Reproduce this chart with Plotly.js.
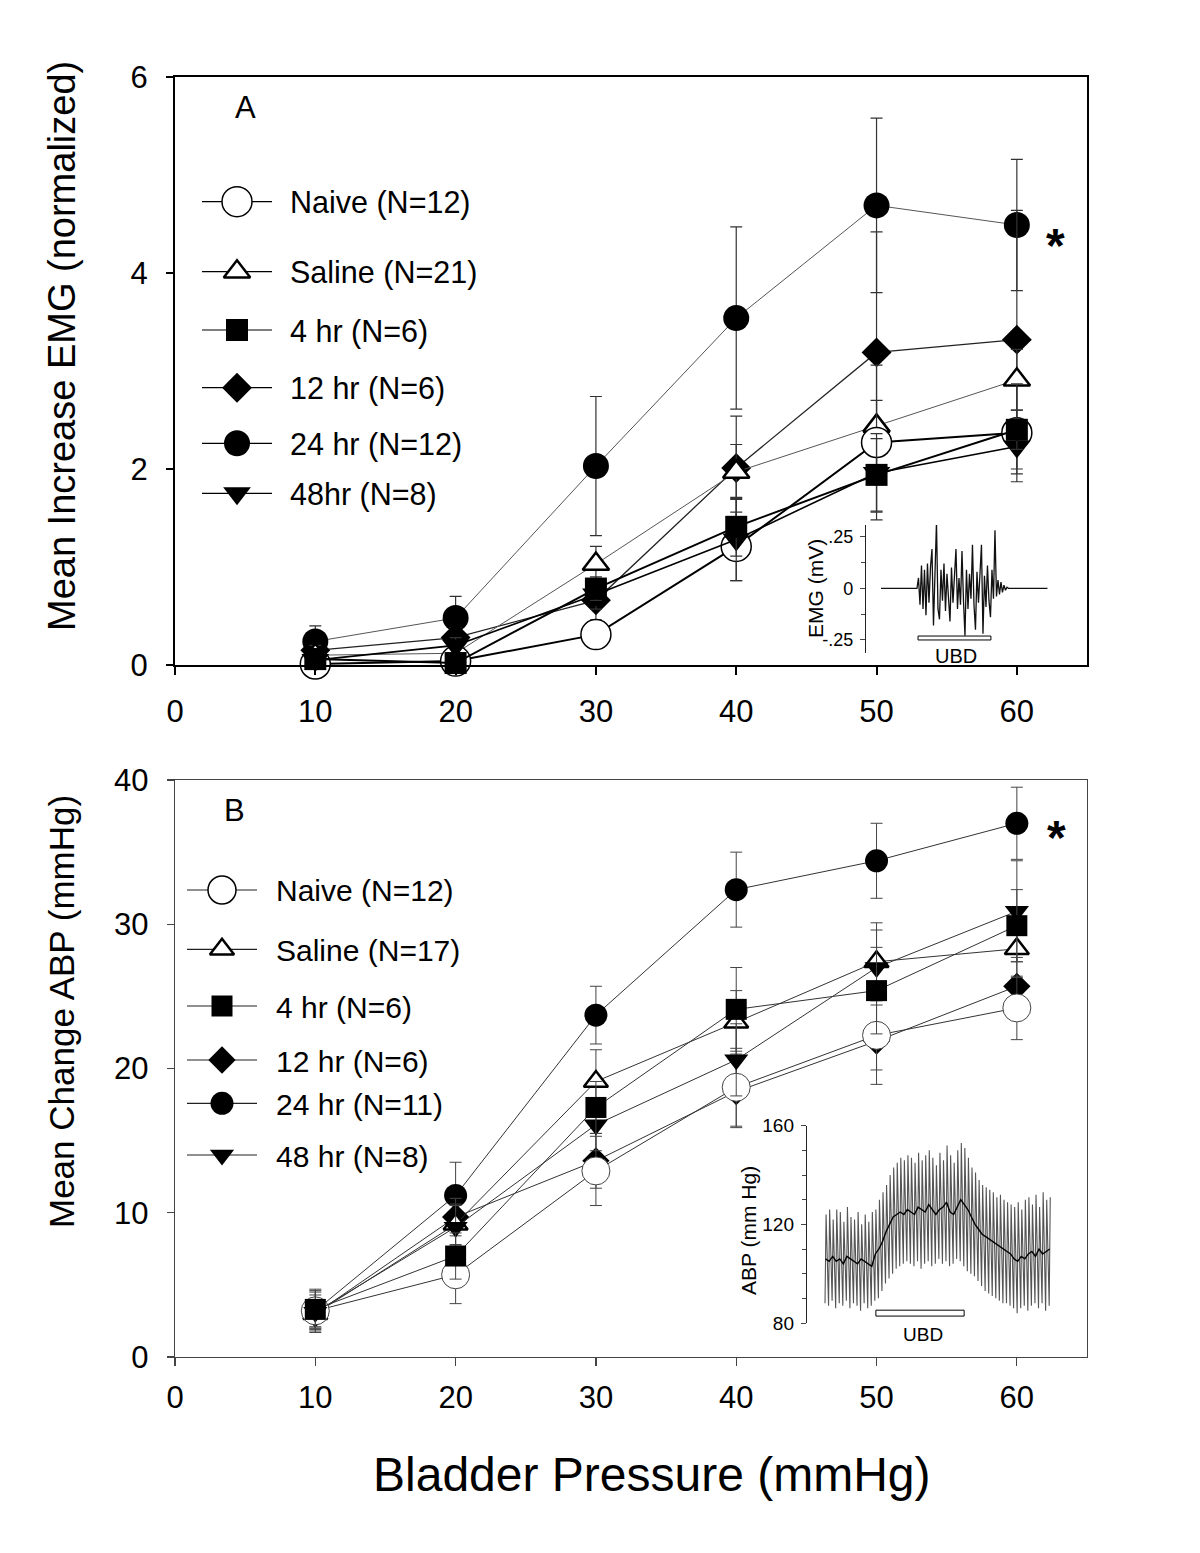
<!DOCTYPE html>
<html>
<head>
<meta charset="utf-8">
<script src="https://cdn.plot.ly/plotly-3.0.1.min.js"></script>
<style>html,body{margin:0;padding:0;background:#fff;}#chart{width:1200px;height:1553px;}</style>
</head>
<body>
<div id="chart"></div>
<script>
// ---------------- DATA ----------------
const bladderPressure = [10, 20, 30, 40, 50, 60];
const xTicks = [0, 10, 20, 30, 40, 50, 60];

const namesA = ['Naive (N=12)', 'Saline (N=21)', '4 hr (N=6)', '12 hr (N=6)', '24 hr (N=12)', '48hr (N=8)'];
const namesB = ['Naive (N=12)', 'Saline (N=17)', '4 hr (N=6)', '12 hr (N=6)', '24 hr (N=11)', '48 hr (N=8)'];

// Panel A: Mean increase EMG (normalized)
const emgNaive  = [0.01, 0.04, 0.31, 1.21, 2.27, 2.37];
const emgSaline = [0.10, 0.12, 1.03, 1.97, 2.44, 2.91];
const emg4hr    = [0.06, 0.02, 0.78, 1.41, 1.94, 2.40];
const emg12hr   = [0.15, 0.28, 0.66, 2.01, 3.19, 3.32];
const emg24hr   = [0.24, 0.48, 2.03, 3.54, 4.69, 4.49];
const emg48hr   = [0.05, 0.20, 0.72, 1.28, 1.96, 2.23];
const emgNaiveSE  = [0.03, 0.04, 0.08, 0.35, 0.79, 0.50];
const emgSalineSE = [0.10, 0.08, 0.18, 0.28, 0.26, 0.31];
const emg4hrSE    = [0.04, 0.03, 0.12, 0.30, 0.37, 0.20];
const emg12hrSE   = [0.06, 0.10, 0.20, 0.53, 1.23, 1.32];
const emg24hrSE   = [0.16, 0.22, 0.71, 0.93, 0.89, 0.67];
const emg48hrSE   = [0.05, 0.08, 0.15, 0.42, 0.40, 0.28];

// Panel B: Mean change ABP (mmHg)
const abpNaive  = [3.2, 5.7, 12.9, 18.7, 22.3, 24.2];
const abpSaline = [3.0, 9.2, 19.1, 23.2, 27.4, 28.3];
const abp4hr    = [3.3, 7.0, 17.3, 24.1, 25.4, 29.9];
const abp12hr   = [3.0, 9.7, 13.6, 18.4, 21.9, 25.7];
const abp24hr   = [3.2, 11.2, 23.7, 32.4, 34.4, 37.0];
const abp48hr   = [3.1, 9.0, 16.1, 20.6, 27.0, 30.9];
const abpNaiveSE  = [1.4, 2.0, 2.4, 2.7, 2.4, 2.2];
const abpSalineSE = [1.0, 1.4, 2.2, 2.2, 2.7, 2.0];
const abp4hrSE    = [1.2, 1.6, 1.8, 2.9, 3.0, 2.5];
const abp12hrSE   = [1.0, 1.3, 1.9, 2.5, 3.0, 2.0];
const abp24hrSE   = [1.5, 2.3, 2.0, 2.6, 2.6, 2.5];
const abp48hrSE   = [1.2, 1.5, 1.8, 2.5, 2.6, 3.5];

// Inset A: EMG trace (mV), equally spaced samples
const emgTrace = [
  0,0,0,0,0,0,0,0,0,0,0,0,0,0,0,0,0,0,0,0,0,0,0,0,0,
  0.05,-0.08,0.11,-0.10,0.09,-0.13,0.12,-0.07,0.10,0.19,
  -0.18,0.08,0.32,-0.10,-0.15,0.09,-0.06,0.12,-0.11,0.07,
  -0.08,-0.16,0.10,-0.07,0.06,0.19,-0.10,0.05,-0.08,0.18,
  -0.06,-0.23,0.09,-0.10,0.07,-0.05,0.21,-0.08,-0.20,0.08,
  -0.07,0.10,0.21,-0.22,0.06,-0.09,0.11,-0.06,-0.14,0.09,
  -0.05,0.28,-0.04,0.04,-0.03,0.03,-0.02,0.015,-0.01,0.005,
  0,0,0,0,0,0,0,0,0,0,0,0,0,0,0,0,0,0,0,0,0,0,0,0,0,0,0
];
const emgUBD = [24.7, 73.3];          // sample index range of bladder distension
const emgTicks = [-0.25, 0, 0.25];
const emgTickText = ['-.25', '0', '.25'];

// Inset B: ABP trace per beat (mm Hg)
const abpSys = [124,126,122,126,125,121,127,123,122,125,120,124,121,125,
  126,130,133,136,140,143,145,147,146,148,
  147,145,149,146,148,150,147,144,149,146,152,148,145,150,153,151,147,143,
  141,138,136,135,134,133,131,132,130,129,128,
  127,129,126,130,131,128,132,127,133,130,131];
const abpDia = [88,87,89,86,88,87,89,86,88,87,85,88,86,87,
  89,90,93,96,98,100,102,103,104,105,
  104,103,105,102,104,105,103,104,106,104,105,103,104,106,105,103,101,100,
  99,97,95,93,92,91,90,89,88,88,87,
  86,84,86,87,85,87,88,86,88,85,87];
const abpMean = [106,105,107,105,106,104,107,106,105,104,106,105,104,103,
  108,110,113,117,120,123,124,125,124,126,
  125,124,127,126,125,128,126,124,126,127,129,125,124,127,130,128,126,123,
  120,118,116,115,114,113,112,111,110,109,108,
  106,105,107,106,108,109,107,110,108,109,110];
const abpUBD = [14.3, 39.1];          // beat index range of bladder distension
const abpTicks = [80, 120, 160];

// ---------------- STYLE / LAYOUT HELPERS ----------------
const W = 1200, H = 1553;
const FONT = 'Liberation Sans, Arial, sans-serif';
const px = v => v / W;
const py = v => 1 - v / H;

const symbols = ['circle', 'triangle-up', 'square', 'diamond', 'circle', 'triangle-down'];
const fills   = ['#ffffff', '#ffffff', '#000000', '#000000', '#000000', '#000000'];
const outlineW = [1.5, 2.5, 0, 0, 0, 0];
const sizesA  = [30, 23, 22, 23, 26, 24];
const sizesB  = [28, 21, 21, 21, 23, 21];
const lineWA  = [2, 1, 2, 1.3, 1, 1.6];
const lineCA  = ['#000', '#555', '#000', '#222', '#555', '#000'];

const meansA = [emgNaive, emgSaline, emg4hr, emg12hr, emg24hr, emg48hr];
const seA    = [emgNaiveSE, emgSalineSE, emg4hrSE, emg12hrSE, emg24hrSE, emg48hrSE];
const meansB = [abpNaive, abpSaline, abp4hr, abp12hr, abp24hr, abp48hr];
const seB    = [abpNaiveSE, abpSalineSE, abp4hrSE, abp12hrSE, abp24hrSE, abp48hrSE];

const traces = [];
const drawOrder = [4, 3, 1, 0, 5, 2];

drawOrder.forEach(i => {
  traces.push({
    type: 'scatter', mode: 'lines+markers', name: namesA[i],
    x: bladderPressure, y: meansA[i], xaxis: 'x', yaxis: 'y',
    cliponaxis: false, showlegend: false,
    line: {color: lineCA[i], width: lineWA[i]},
    marker: {symbol: symbols[i], size: sizesA[i], color: fills[i],
             line: {color: '#000', width: outlineW[i]}},
    error_y: {type: 'data', array: seA[i], visible: true, color: '#333', thickness: 1.2, width: 6}
  });
});
drawOrder.forEach(i => {
  traces.push({
    type: 'scatter', mode: 'lines+markers', name: namesB[i],
    x: bladderPressure, y: meansB[i], xaxis: 'x2', yaxis: 'y2',
    cliponaxis: false, showlegend: false,
    line: {color: '#333', width: 1},
    marker: {symbol: symbols[i], size: sizesB[i], color: fills[i],
             line: {color: i === 0 ? '#444' : '#000', width: i === 0 ? 1 : outlineW[i]}},
    error_y: {type: 'data', array: seB[i], visible: true, color: '#444', thickness: 1, width: 6}
  });
});

// Inset A trace
traces.push({
  type: 'scatter', mode: 'lines', name: 'EMG trace',
  x: emgTrace.map((_, k) => k), y: emgTrace, xaxis: 'x3', yaxis: 'y3',
  showlegend: false, line: {color: '#111', width: 1.3}
});

// Inset B trace: beat-by-beat pulsatile pressure + mean pressure
const pulseX = [], pulseY = [];
abpSys.forEach((s, k) => { pulseX.push(k, k + 0.3); pulseY.push(abpDia[k], s); });
traces.push({
  type: 'scatter', mode: 'lines', name: 'ABP pulsatile',
  x: pulseX, y: pulseY, xaxis: 'x4', yaxis: 'y4',
  showlegend: false, line: {color: '#555', width: 1.1}
});
traces.push({
  type: 'scatter', mode: 'lines', name: 'ABP mean',
  x: abpMean.map((_, k) => k + 0.15), y: abpMean, xaxis: 'x4', yaxis: 'y4',
  showlegend: false, line: {color: '#000', width: 1.4}
});

// Manual legends (pixel overlay axis x5/y5)
const legendRowsA = [201.7, 271.7, 330, 387.7, 443.3, 493.3];
const legendRowsB = [890, 949.3, 1006, 1060, 1103.3, 1155];
function addLegend(rows, names, sizes, lx0, lx1, textX, fs, lineColor) {
  const annots = [];
  rows.forEach((ry, i) => {
    traces.push({type: 'scatter', mode: 'lines', x: [lx0, lx1], y: [ry, ry],
      xaxis: 'x5', yaxis: 'y5', showlegend: false, hoverinfo: 'skip',
      line: {color: lineColor, width: 1.2}});
    traces.push({type: 'scatter', mode: 'markers', x: [(lx0 + lx1) / 2], y: [ry],
      xaxis: 'x5', yaxis: 'y5', showlegend: false, hoverinfo: 'skip', cliponaxis: false,
      marker: {symbol: symbols[i], size: sizes[i], color: fills[i],
               line: {color: '#000', width: outlineW[i]}}});
    annots.push({xref: 'paper', yref: 'paper', x: px(textX), y: py(ry + 1),
      xanchor: 'left', yanchor: 'middle', showarrow: false, text: names[i],
      font: {family: FONT, size: fs, color: '#000'}});
  });
  return annots;
}
const legendAnnots = addLegend(legendRowsA, namesA, sizesA, 202, 272, 288, 30.5, '#000')
  .concat(addLegend(legendRowsB, namesB, sizesB, 187, 257, 274, 30, '#222'));

const tickFont = {family: FONT, size: 31, color: '#000'};
function mainX(anchor, lw, lc, standoff) {
  return {domain: [px(175), px(1087)], range: [0, 65], anchor: anchor,
    tickvals: xTicks, ticks: 'outside', ticklen: 8, tickwidth: lw, tickcolor: lc,
    showline: true, linewidth: lw, linecolor: lc, mirror: true,
    showgrid: false, zeroline: false, tickfont: tickFont, ticklabelstandoff: standoff, fixedrange: true};
}
function mainY(anchor, dom, rng, dt, lw, lc) {
  return {domain: dom, range: rng, anchor: anchor, dtick: dt, tick0: 0,
    ticks: 'outside', ticklen: 7, tickwidth: lw, tickcolor: lc,
    showline: true, linewidth: lw, linecolor: lc, mirror: true,
    showgrid: false, zeroline: false, tickfont: tickFont, ticklabelstandoff: 12, fixedrange: true};
}

const layout = {
  width: W, height: H, margin: {l: 0, r: 0, t: 0, b: 0},
  paper_bgcolor: '#fff', plot_bgcolor: 'rgba(0,0,0,0)', showlegend: false,
  font: {family: FONT, color: '#000'},
  xaxis: mainX('y', 2, '#000', 10),
  yaxis: mainY('x', [py(665), py(77)], [0, 6], 2, 2, '#000'),
  xaxis2: mainX('y2', 1.3, '#444', 4),
  yaxis2: mainY('x2', [py(1357), py(780)], [0, 40], 10, 1.3, '#444'),
  xaxis3: {domain: [px(866), px(1062)], range: [-10, 120.7], anchor: 'y3', visible: false, fixedrange: true},
  yaxis3: {domain: [py(653), py(525)], range: [-0.313, 0.306], anchor: 'x3',
    tickvals: emgTicks, ticktext: emgTickText, ticks: 'outside', ticklen: 5, tickwidth: 1,
    minor: {tickvals: [-0.125, 0.125], ticks: 'outside', ticklen: 4, tickwidth: 1, showgrid: false},
    showline: true, linewidth: 1.2, linecolor: '#222', showgrid: false, zeroline: false,
    tickfont: {family: FONT, size: 18, color: '#000'}, ticklabelstandoff: 3, fixedrange: true},
  xaxis4: {domain: [px(807), px(1062)], range: [-5.06, 66.6], anchor: 'y4', visible: false, fixedrange: true},
  yaxis4: {domain: [py(1323), py(1125.7)], range: [80, 160], anchor: 'x4',
    tickvals: abpTicks, ticks: 'outside', ticklen: 5, tickwidth: 1,
    minor: {dtick: 10, ticks: 'outside', ticklen: 4, tickwidth: 1, showgrid: false},
    showline: true, linewidth: 1.2, linecolor: '#222', showgrid: false, zeroline: false,
    tickfont: {family: FONT, size: 19, color: '#000'}, ticklabelstandoff: 3, fixedrange: true},
  xaxis5: {domain: [0, 1], range: [0, W], anchor: 'y5', visible: false, fixedrange: true},
  yaxis5: {domain: [0, 1], range: [H, 0], anchor: 'x5', visible: false, fixedrange: true},
  shapes: [
    {type: 'rect', xref: 'x3', yref: 'y3', x0: emgUBD[0], x1: emgUBD[1], y0: -0.231, y1: -0.250,
     line: {color: '#000', width: 1}, fillcolor: '#fff'},
    {type: 'rect', xref: 'x4', yref: 'y4', x0: abpUBD[0], x1: abpUBD[1], y0: 85.2, y1: 82.8,
     line: {color: '#000', width: 1}, fillcolor: '#fff'}
  ],
  annotations: [
    {xref: 'paper', yref: 'paper', x: px(62), y: py(346), textangle: -90, showarrow: false,
     xanchor: 'center', yanchor: 'middle', text: 'Mean Increase EMG (normalized)',
     font: {family: FONT, size: 38, color: '#000'}},
    {xref: 'paper', yref: 'paper', x: px(62), y: py(1012), textangle: -90, showarrow: false,
     xanchor: 'center', yanchor: 'middle', text: 'Mean Change ABP (mmHg)',
     font: {family: FONT, size: 35, color: '#000'}},
    {xref: 'paper', yref: 'paper', x: px(651), y: py(1474), showarrow: false,
     xanchor: 'center', yanchor: 'middle', text: 'Bladder Pressure (mmHg)',
     font: {family: FONT, size: 48, color: '#000'}},
    {xref: 'paper', yref: 'paper', x: px(245), y: py(108), showarrow: false,
     xanchor: 'center', yanchor: 'middle', text: 'A', font: {family: FONT, size: 31, color: '#000'}},
    {xref: 'paper', yref: 'paper', x: px(234), y: py(810), showarrow: false,
     xanchor: 'center', yanchor: 'middle', text: 'B', font: {family: FONT, size: 31, color: '#000'}},
    {xref: 'paper', yref: 'paper', x: px(1055), y: py(246), showarrow: false,
     xanchor: 'center', yanchor: 'middle', text: '<b>*</b>', font: {family: FONT, size: 48, color: '#000'}},
    {xref: 'paper', yref: 'paper', x: px(1056), y: py(837), showarrow: false,
     xanchor: 'center', yanchor: 'middle', text: '<b>*</b>', font: {family: FONT, size: 48, color: '#000'}},
    {xref: 'paper', yref: 'paper', x: px(815), y: py(589), textangle: -90, showarrow: false,
     xanchor: 'center', yanchor: 'middle', text: 'EMG (mV)', font: {family: FONT, size: 21, color: '#000'}},
    {xref: 'paper', yref: 'paper', x: px(748), y: py(1231), textangle: -90, showarrow: false,
     xanchor: 'center', yanchor: 'middle', text: 'ABP (mm Hg)', font: {family: FONT, size: 21, color: '#000'}},
    {xref: 'paper', yref: 'paper', x: px(956), y: py(656), showarrow: false,
     xanchor: 'center', yanchor: 'middle', text: 'UBD', font: {family: FONT, size: 20, color: '#000'}},
    {xref: 'paper', yref: 'paper', x: px(923), y: py(1334), showarrow: false,
     xanchor: 'center', yanchor: 'middle', text: 'UBD', font: {family: FONT, size: 19, color: '#000'}}
  ].concat(legendAnnots)
};

Plotly.newPlot('chart', traces, layout, {staticPlot: true, displayModeBar: false});
</script>
</body>
</html>
